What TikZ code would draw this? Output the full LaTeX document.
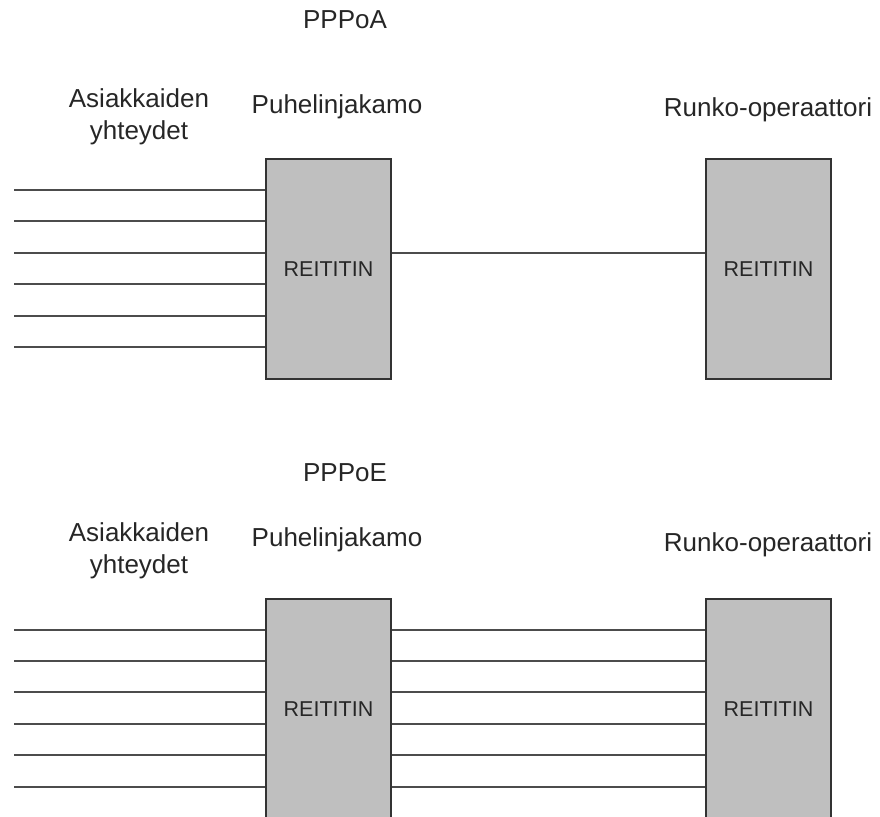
\documentclass[tikz,border=0pt]{standalone}
\usepackage{fontspec}
\setmainfont{Liberation Sans}
\begin{document}
\begin{tikzpicture}[x=1pt,y=-1pt,
  label/.style={inner sep=0pt, text=black!85, font=\fontsize{26}{32}\selectfont, align=center},
  router/.style={draw=black!80, fill=black!25, line width=1.3pt, minimum width=125pt,
    minimum height=220pt, inner sep=0pt, text=black!85, font=\fontsize{21.5}{26}\selectfont},
  wire/.style={draw=black!70, line width=1.3pt}]
\useasboundingbox (0,0) rectangle (880,816);
\clip (0,0) rectangle (880,816);

% ---- PPPoA: one link between the routers ----
\node[label] (tA) at (345,20) {PPPoA};
\node[label] (custA) at (139,117) {Asiakkaiden\\yhteydet};
\node[label] (exA) at (337,107) {Puhelinjakamo};
\node[label] (opA) at (768,110) {Runko-operaattori};
\node[router] (rA1) at (328.5,269) {REITITIN};
\node[router] (rA2) at (768.5,269) {REITITIN};
\foreach \y [count=\i] in {190,221,253,284,316,347} {
  \coordinate (inA\i) at (14,\y);
  \draw[wire] (inA\i) -- (inA\i -| rA1.west);
}
\draw[wire] (rA1.east |- 0,253) -- (rA2.west |- 0,253);

% ---- PPPoE: six links between the routers ----
\node[label] (tE) at (345,473) {PPPoE};
\node[label] (custE) at (139,551) {Asiakkaiden\\yhteydet};
\node[label] (exE) at (337,540) {Puhelinjakamo};
\node[label] (opE) at (768,545) {Runko-operaattori};
\node[router] (rE1) at (328.5,709) {REITITIN};
\node[router] (rE2) at (768.5,709) {REITITIN};
\foreach \y [count=\i] in {630,661,692,724,755,787} {
  \coordinate (inE\i) at (14,\y);
  \draw[wire] (inE\i) -- (inE\i -| rE1.west);
  \draw[wire] (inE\i -| rE1.east) -- (inE\i -| rE2.west);
}
\end{tikzpicture}
\end{document}
